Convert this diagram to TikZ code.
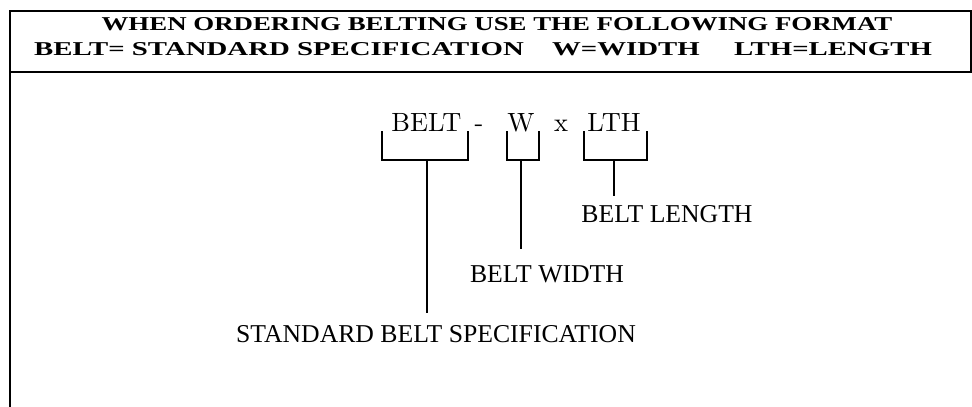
\documentclass[tikz,border=0pt]{standalone}
\usepackage{fontspec}
\usepackage{graphicx}
\newfontfamily\garfont{Liberation Serif}
\newfontfamily\cmfont{lmroman10-regular}[Extension=.otf]
\usetikzlibrary{positioning}

\newcommand{\hdrtext}[2][1.37]{\scalebox{#1}[1]{\garfont\bfseries\fontsize{19.6}{22}\selectfont #2}}

\begin{document}
\begin{tikzpicture}[x=1pt, y=-1pt,
  frame/.style={line width=2.6pt},
  brk/.style={line width=2pt},
  hdr/.style={inner sep=0pt, anchor=base},
  sym/.style={inner sep=0pt, anchor=base, font=\cmfont\fontsize{26.4}{30}\selectfont},
  lbl/.style={inner sep=0pt, anchor=base, font=\garfont\fontsize{25.7}{30}\selectfont}]

  \useasboundingbox (0,0) rectangle (972,407);

  % frame and header
  \draw[frame] (10,408) -- (10,11) -- (971,11) -- (971,72) -- (10,72);
  \node[hdr] (hdrA) at (497,30) {\hdrtext{WHEN ORDERING BELTING USE THE FOLLOWING FORMAT}};
  \node[hdr] (hdrB) at (279,55) {\hdrtext[1.47]{BELT= STANDARD SPECIFICATION}};
  \node[hdr] (hdrC) at (626,55) {\hdrtext[1.47]{W=WIDTH}};
  \node[hdr] (hdrD) at (833,55) {\hdrtext[1.47]{LTH=LENGTH}};

  % format line
  \node[sym] (belt) at (426.5,131) {BELT};
  \node[sym] (hyph) at (479,131) {-};
  \node[sym] (wid) at (521,131) {W};
  \node[sym] (by) at (561,131) {x};
  \node[sym] (lth) at (614,131) {LTH};

  % labels
  \node[lbl, outer ysep=12pt] (std) at (436,342) {STANDARD BELT SPECIFICATION};
  \node[lbl, outer ysep=16pt] (bwid) at (547,282) {BELT WIDTH};
  \node[lbl, outer ysep=9pt] (blen) at (667,222) {BELT LENGTH};

  % brackets
  \draw[brk] ([xshift=-9pt]belt.base west) |- ([yshift=-29pt]belt.base) -| ([xshift=6pt]belt.base east);
  \draw[brk] ([xshift=0pt]wid.base west) |- ([yshift=-29pt]wid.base) -| ([xshift=4pt]wid.base east);
  \draw[brk] ([xshift=-3pt]lth.base west) |- ([yshift=-29pt]lth.base) -| ([xshift=6pt]lth.base east);

  \draw[brk] ([yshift=-29pt]belt.base) -- (belt.base |- std.north);
  \draw[brk] ([yshift=-29pt]wid.base) -- (wid.base |- bwid.north);
  \draw[brk] ([yshift=-29pt]lth.base) -- (lth.base |- blen.north);
\end{tikzpicture}
\end{document}
